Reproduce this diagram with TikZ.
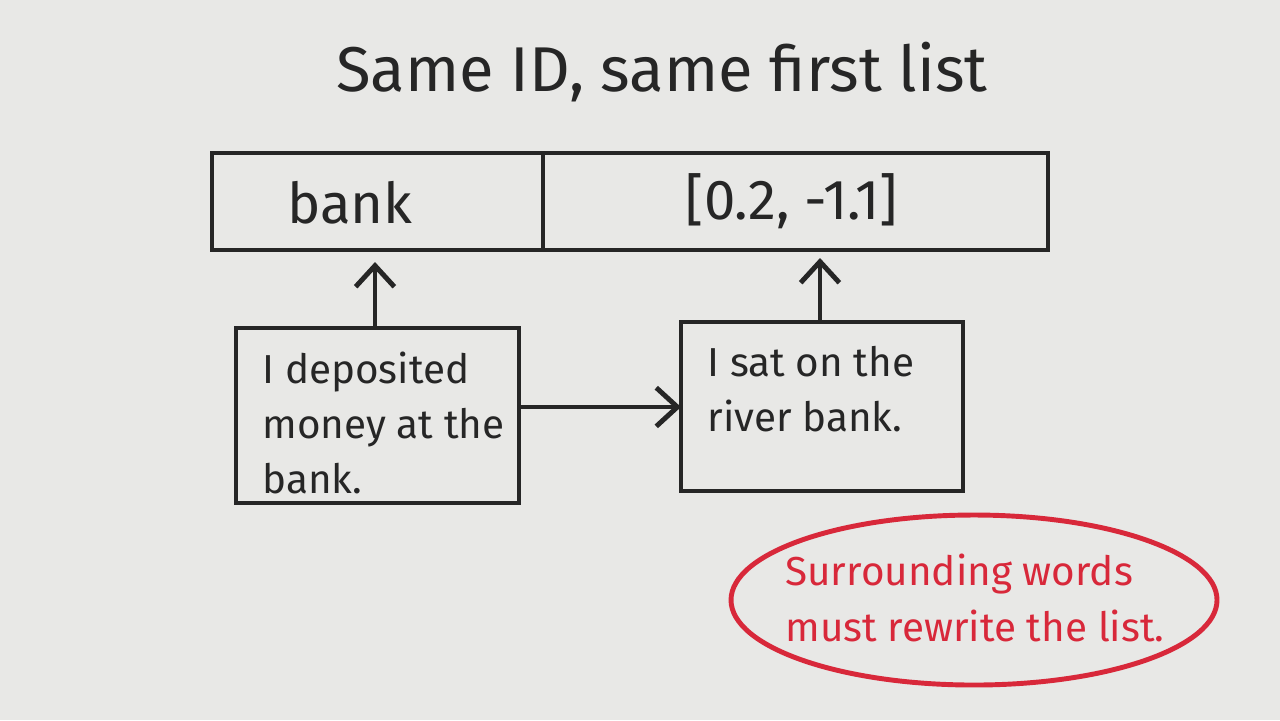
\documentclass[tikz,border=0pt]{standalone}
\usepackage{fontspec}
\setmainfont{Fira Sans}
\usetikzlibrary{arrows.meta,shapes.geometric}
\definecolor{board}{HTML}{E8E8E6}
\definecolor{ink}{HTML}{262626}
\definecolor{redink}{HTML}{D8283A}
\begin{document}
\begin{tikzpicture}[x=0.01cm,y=-0.01cm,
  box/.style={draw=ink,line width=1.4pt},
  arr/.style={draw=ink,line width=1.4pt,-{Straight Barb[length=6pt,width=11pt]}},
  lbl/.style={text=ink,font=\fontsize{11.5}{15.5}\selectfont,align=left}]
\fill[board] (0,0) rectangle (1280,720);
\useasboundingbox (0,0) rectangle (1280,720);
\node[text=ink,font=\fontsize{18}{21}\selectfont] (title) at (662,72) {Same ID, same first list};
\draw[box] (212,153) rectangle (1048,250);
\draw[box] (543,153) -- (543,250);
\node[text=ink,font=\fontsize{16}{20}\selectfont] (w) at (350,203) {bank};
\node[text=ink,font=\fontsize{16}{20}\selectfont] (v) at (792,201) {[0.2, -1.1]};
\draw[box] (236,328) rectangle (519,503);
\coordinate (b1t) at (375,328); \coordinate (b1r) at (519,407);
\node[lbl,anchor=north west] (t1) at (250,340) {I deposited\\money at the\\bank.};
\draw[box] (681,322) rectangle (963,491);
\coordinate (b2t) at (820,322); \coordinate (b2l) at (681,407);
\node[lbl,anchor=north west] (t2) at (695,334) {I sat on the\\river bank.};
\coordinate (a1e) at (375,262); \coordinate (a2e) at (820,258);
\draw[arr] (b1t) -- (a1e);
\draw[arr] (b2t) -- (a2e);
\draw[arr] (b1r) -- (b2l);
\draw[redink,line width=1.4pt] (974,600) ellipse [x radius=243,y radius=85];
\node[text=redink,font=\fontsize{11.5}{16}\selectfont,align=left] (note) at (975,598) {Surrounding words\\must rewrite the list.};
\end{tikzpicture}
\end{document}
